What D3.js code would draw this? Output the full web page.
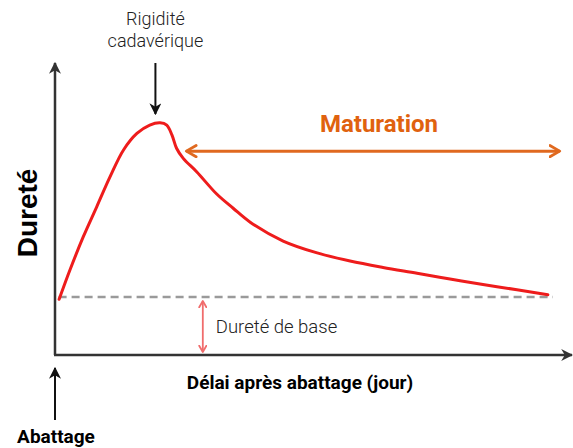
<!DOCTYPE html>
<html lang="fr">
<head>
<meta charset="UTF-8" />
<title>Dureté de la viande après abattage</title>
<style>
    body, html { margin: 0; padding: 0; background: #fff; overflow: hidden; }
    svg { display: block; }
    .lbl { font-family: Roboto, "Noto Sans", sans-serif; }
</style>
</head>
<body>
<svg id="chart" width="573" height="448"></svg>
<script src="https://d3js.org/d3.v7.min.js"></script>
<script>
    // délai (jours, unité arbitraire) et dureté (unité arbitraire)
    const days     = [0.08, 0.29, 0.55, 0.81, 1.07, 1.33, 1.59, 1.84, 2.04, 2.17, 2.27, 2.36, 2.49, 2.75, 3.14, 3.46, 3.79, 4.43, 5.09, 5.73, 6.37, 7.03, 7.67, 8.31, 8.97, 9.57];
    const hardness = [1.92, 2.93, 4.08, 5.11, 6.15, 7.07, 7.64, 7.93, 8.01, 7.93, 7.59, 7.13, 6.78, 6.32, 5.55, 5.06, 4.58, 3.93, 3.52, 3.24, 3.02, 2.82, 2.62, 2.43, 2.25, 2.08];
    const baseHardness = 2;
    const baseRange = [0.07, 9.67];
    const rigorDay = 1.95;
    const maturationRange = [2.55, 9.8];
    const maturationLevel = 7.03;

    const svg = d3.select("#chart");
    const x = d3.scaleLinear().domain([0, 10]).range([55, 570]);
    const y = d3.scaleLinear().domain([0, 10]).range([355, 65]);

    const defs = svg.append("defs");
    function marker(id, color, size) {
        defs.append("marker")
            .attr("id", id)
            .attr("viewBox", "0 0 10 10")
            .attr("refX", 8).attr("refY", 5)
            .attr("markerWidth", size).attr("markerHeight", size)
            .attr("markerUnits", "userSpaceOnUse")
            .attr("orient", "auto-start-reverse")
            .append("path")
            .attr("d", "M1,1 L8,5 L1,9")
            .attr("fill", "none")
            .attr("stroke", color)
            .attr("stroke-width", 2)
            .attr("stroke-linecap", "round")
            .attr("stroke-linejoin", "round");
    }
    function solidMarker(id, color, size) {
        defs.append("marker")
            .attr("id", id)
            .attr("viewBox", "0 0 10 10")
            .attr("refX", 9).attr("refY", 5)
            .attr("markerWidth", size).attr("markerHeight", size)
            .attr("markerUnits", "userSpaceOnUse")
            .attr("orient", "auto-start-reverse")
            .append("path")
            .attr("d", "M0,0 L10,5 L0,10 L3,5 Z")
            .attr("fill", color);
    }
    solidMarker("axisHead", "#333", 12);
    solidMarker("blackHead", "#111", 12);
    marker("orangeHead", "#e0691f", 14);
    marker("pinkHead", "#f06c6c", 9);

    // axes
    svg.append("line")
        .attr("x1", x(0)).attr("y1", y(0)).attr("x2", x(0)).attr("y2", 63)
        .attr("stroke", "#333").attr("stroke-width", 2.5)
        .attr("marker-end", "url(#axisHead)");
    svg.append("line")
        .attr("x1", x(0) - 1).attr("y1", y(0)).attr("x2", 572).attr("y2", y(0))
        .attr("stroke", "#333").attr("stroke-width", 2.5)
        .attr("marker-end", "url(#axisHead)");

    // dureté de base (pointillés)
    svg.append("line")
        .attr("x1", x(baseRange[0])).attr("x2", x(baseRange[1]))
        .attr("y1", y(baseHardness)).attr("y2", y(baseHardness))
        .attr("stroke", "#9a9a9a").attr("stroke-width", 2.5)
        .attr("stroke-dasharray", "8,5");

    // courbe de dureté
    const pts = days.map((d, i) => [d, hardness[i]]);
    svg.append("path")
        .datum(pts)
        .attr("fill", "none")
        .attr("stroke", "#ee1c1c")
        .attr("stroke-width", 3)
        .attr("stroke-linejoin", "round")
        .attr("stroke-linecap", "round")
        .attr("d", d3.line().x(d => x(d[0])).y(d => y(d[1])).curve(d3.curveCatmullRom.alpha(0.5)));

    // rigidité cadavérique
    svg.append("line")
        .attr("x1", x(rigorDay)).attr("x2", x(rigorDay))
        .attr("y1", 63).attr("y2", 114)
        .attr("stroke", "#111").attr("stroke-width", 2)
        .attr("marker-end", "url(#blackHead)");
    svg.append("text").attr("class", "lbl")
        .attr("x", x(rigorDay)).attr("y", 25)
        .attr("text-anchor", "middle")
        .attr("font-size", 18).attr("font-weight", 300).attr("fill", "#222")
        .text("Rigidité");
    svg.append("text").attr("class", "lbl")
        .attr("x", x(rigorDay)).attr("y", 47)
        .attr("text-anchor", "middle")
        .attr("font-size", 18).attr("font-weight", 300).attr("fill", "#222")
        .text("cadavérique");

    // maturation
    svg.append("line")
        .attr("x1", x(maturationRange[0])).attr("x2", x(maturationRange[1]))
        .attr("y1", y(maturationLevel)).attr("y2", y(maturationLevel))
        .attr("stroke", "#e0691f").attr("stroke-width", 3)
        .attr("marker-start", "url(#orangeHead)")
        .attr("marker-end", "url(#orangeHead)");
    svg.append("text").attr("class", "lbl")
        .attr("x", 379).attr("y", 132)
        .attr("text-anchor", "middle")
        .attr("font-size", 24).attr("font-weight", 700).attr("fill", "#e0620f")
        .text("Maturation");

    // dureté de base (flèche)
    const baseArrowX = x(2.87);
    svg.append("line")
        .attr("x1", baseArrowX).attr("x2", baseArrowX)
        .attr("y1", y(baseHardness) + 4).attr("y2", y(0) - 3)
        .attr("stroke", "#f06c6c").attr("stroke-width", 1.8)
        .attr("marker-start", "url(#pinkHead)")
        .attr("marker-end", "url(#pinkHead)");
    svg.append("text").attr("class", "lbl")
        .attr("x", baseArrowX + 13).attr("y", 333)
        .attr("font-size", 18.5).attr("font-weight", 300).attr("fill", "#222")
        .text("Dureté de base");

    // titres des axes
    svg.append("text")
        .attr("transform", "translate(37,213) rotate(-90)")
        .attr("text-anchor", "middle")
        .attr("font-family", "'Liberation Sans', Arial, sans-serif")
        .attr("font-size", 28).attr("font-weight", 700).attr("fill", "#000")
        .text("Dureté");
    svg.append("text").attr("class", "lbl")
        .attr("x", 300).attr("y", 389)
        .attr("text-anchor", "middle")
        .attr("font-size", 19).attr("font-weight", 700).attr("fill", "#000")
        .text("Délai après abattage (jour)");

    // abattage
    svg.append("line")
        .attr("x1", x(0)).attr("x2", x(0))
        .attr("y1", 420).attr("y2", 368)
        .attr("stroke", "#111").attr("stroke-width", 2)
        .attr("marker-end", "url(#blackHead)");
    svg.append("text").attr("class", "lbl")
        .attr("x", 56).attr("y", 443)
        .attr("text-anchor", "middle")
        .attr("font-size", 19).attr("font-weight", 700).attr("fill", "#000")
        .text("Abattage");
</script>
</body>
</html>
